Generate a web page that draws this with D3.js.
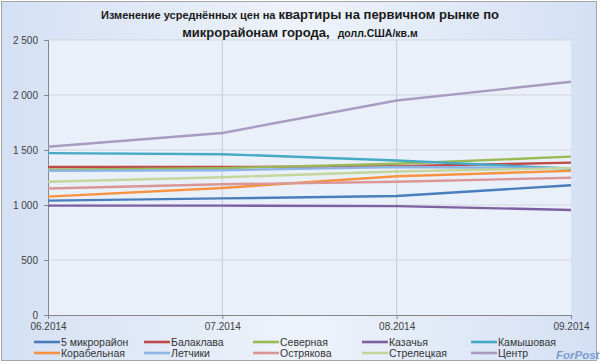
<!DOCTYPE html>
<html><head><meta charset="utf-8">
<script src="https://cdn.jsdelivr.net/npm/d3@7"></script>
<style>body{margin:0;background:#fff}svg{display:block;font-family:"Liberation Sans",Arial,sans-serif}</style>
</head><body><svg id="c" width="600" height="364"></svg>
<script>
const months = ["06.2014","07.2014","08.2014","09.2014"];
const seriesNames = ["5 микрорайон","Балаклава","Северная","Казачья","Камышовая","Корабельная","Летчики","Острякова","Стрелецкая","Центр"];
const v5mkr      = [1040,1060,1082,1180];
const vBalaklava = [1345,1345,1352,1385];
const vSevernaya = [1320,1335,1375,1440];
const vKazachya  = [994,994,990,955];
const vKamysh    = [1472,1462,1405,1330];
const vKorabel   = [1076,1155,1262,1310];
const vLetchiki  = [1312,1316,1345,1335];
const vOstryak   = [1150,1188,1212,1248];
const vStrelets  = [1212,1252,1305,1335];
const vCentr     = [1530,1655,1950,2120];
const yTicks = [0,500,1000,1500,2000,2500];
const yTickLabels = ["0","500","1 000","1 500","2 000","2 500"];
const colors = ["#4a7ebb","#be4b48","#98b954","#7d60a0","#46aac5","#f69240","#8eb4e3","#d99694","#c3d69b","#a99bc0"];
const allValues = [v5mkr,vBalaklava,vSevernaya,vKazachya,vKamysh,vKorabel,vLetchiki,vOstryak,vStrelets,vCentr];

const svg = d3.select("#c");
const defs = svg.append("defs");
const g1 = defs.append("linearGradient").attr("id","bg").attr("x1",0).attr("y1",0).attr("x2",1).attr("y2",0);
g1.append("stop").attr("offset","0").attr("stop-color","#d4e0f4");
g1.append("stop").attr("offset","0.5").attr("stop-color","#eef3fb");
g1.append("stop").attr("offset","1").attr("stop-color","#d4e0f4");

svg.append("rect").attr("x",1.5).attr("y",1.5).attr("width",595).attr("height",359).attr("fill","url(#bg)").attr("stroke","#a6a6a6");

const x = d3.scalePoint().domain(months).range([48,571]);
const y = d3.scaleLinear().domain([0,2500]).range([315,40]);

svg.append("rect").attr("x",48).attr("y",40).attr("width",523).attr("height",275).attr("fill","#eaf0fa");

// gridlines
svg.append("g").selectAll("line").data(yTicks.slice(1)).join("line")
  .attr("x1",48).attr("x2",571).attr("y1",d=>y(d)).attr("y2",d=>y(d))
  .attr("stroke","#d0d5dd").attr("stroke-width",1);
svg.append("g").selectAll("line").data(months.slice(1,3)).join("line")
  .attr("x1",d=>x(d)).attr("x2",d=>x(d)).attr("y1",40).attr("y2",315)
  .attr("stroke","#c4cad4").attr("stroke-width",1);

// axes
const yAxis = d3.axisLeft(y).tickValues(yTicks).tickFormat((d,i)=>yTickLabels[i]).tickSize(4).tickPadding(6);
const ya = svg.append("g").attr("transform","translate(48,0)").call(yAxis);
const xAxis = d3.axisBottom(x).tickSize(4).tickPadding(4);
const xa = svg.append("g").attr("transform","translate(0,315)").call(xAxis);
[ya,xa].forEach(a=>{
  a.select(".domain").attr("stroke","#868686");
  a.selectAll(".tick line").attr("stroke","#868686");
  a.selectAll("text").attr("fill","#404040").style("font-size","10px").style("font-family","Liberation Sans, Arial, sans-serif");
});
ya.selectAll(".tick text").attr("dy","0.3em");

// lines
const line = d3.line().x((d,i)=>x(months[i])).y(d=>y(d));
svg.append("g").selectAll("path").data(allValues).join("path")
  .attr("d",d=>line(d)).attr("fill","none")
  .attr("stroke",(d,i)=>colors[i]).attr("stroke-width",2.4).attr("stroke-linejoin","round");

// title
const t = svg.append("text").attr("x",300).attr("y",19).attr("text-anchor","middle").attr("fill","#1a1a1a").attr("font-weight","bold");
t.append("tspan").style("font-size","11px").text("Изменение усреднённых цен на ");
t.append("tspan").style("font-size","13px").text("квартиры на первичном рынке по");
const t2 = svg.append("text").attr("x",300).attr("y",37).attr("text-anchor","middle").attr("fill","#1a1a1a").attr("font-weight","bold");
t2.append("tspan").style("font-size","13px").text("микрорайонам города,");
t2.append("tspan").style("font-size","10.5px").attr("dx",8).text("долл.США/кв.м");

// legend
const legX = [34,144,253,362,471];
const legY = [342,353];
const leg = svg.append("g").selectAll("g").data(seriesNames).join("g")
  .attr("transform",(d,i)=>`translate(${legX[i%5]},${legY[Math.floor(i/5)]})`);
leg.append("line").attr("x1",0).attr("x2",26).attr("y1",0).attr("y2",0)
  .attr("stroke",(d,i)=>colors[i]).attr("stroke-width",2.6);
leg.append("text").attr("x",27).attr("y",4).text(d=>d)
  .attr("fill","#333").style("font-size","10.5px");

// watermark
svg.append("text").attr("x",556).attr("y",359).attr("fill","#6f8fc9").attr("font-weight","bold")
  .attr("font-style","italic").style("font-size","11.5px").attr("opacity",0.85).text("ForPost");
</script></body></html>
